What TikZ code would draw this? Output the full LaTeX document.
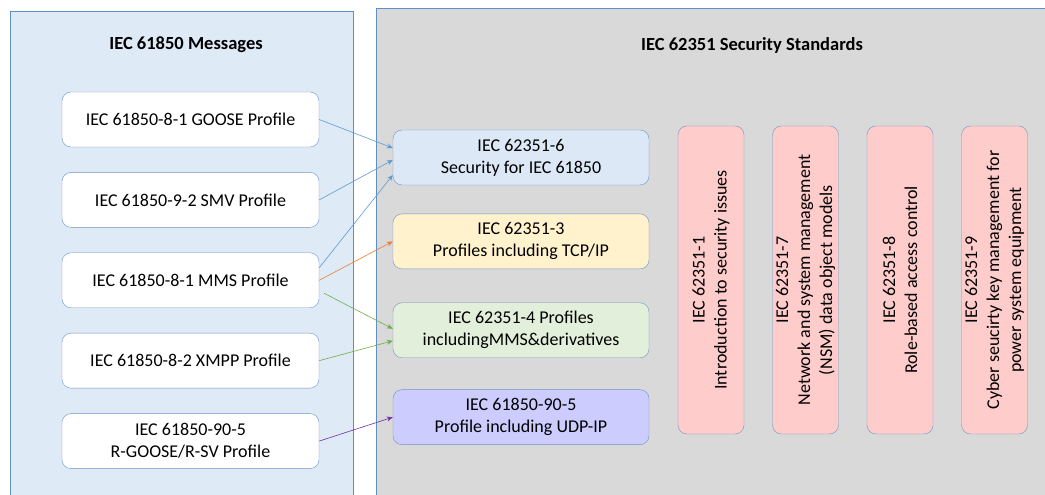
\documentclass[tikz,border=0pt]{standalone}
\usepackage{fontspec}
\setmainfont{Carlito}
\definecolor{panelblue}{HTML}{DEEAF6}
\definecolor{panelgray}{HTML}{D9D9D9}
\definecolor{edgeblue}{HTML}{5F8FC4}
\definecolor{boxedge}{HTML}{7094C4}
\definecolor{secblue}{HTML}{DCE8F6}
\definecolor{secyellow}{HTML}{FFF2CC}
\definecolor{secgreen}{HTML}{E2EFDA}
\definecolor{secpurple}{HTML}{CCCCFF}
\definecolor{secpink}{HTML}{FFCCCC}
\definecolor{arrblue}{HTML}{5B9BD5}
\definecolor{arrorange}{HTML}{ED7D31}
\definecolor{arrgreen}{HTML}{70AD47}
\definecolor{arrpurple}{HTML}{7030A0}
\usetikzlibrary{arrows.meta, positioning}

\begin{document}
\begin{tikzpicture}[
    x=1pt, y=1pt,
    node distance=25pt and 8pt,
    msg/.style={rectangle, rounded corners=9pt, draw=boxedge, fill=white,
                minimum width=257pt, minimum height=55pt,
                text centered, align=center, font=\fontsize{18}{22}\selectfont},
    std/.style={msg, minimum width=256pt},
    vstd/.style={rectangle, rounded corners=9pt, draw=boxedge, fill=secpink,
                 minimum width=308pt, minimum height=66pt, rotate=90,
                 text centered, align=center, font=\fontsize{18}{22}\selectfont},
    title/.style={font=\bfseries\fontsize{18.5}{22}\selectfont},
    arr/.style={-{Stealth[length=6pt, width=5pt]}, line width=0.6pt}
  ]
  \useasboundingbox (0,0) rectangle (1045,495);

  % panels
  \draw[edgeblue, fill=panelblue, line width=0.8pt] (10,-5) rectangle (353,484);
  \draw[edgeblue, fill=panelgray, line width=0.8pt] (376,-5) rectangle (1060,487);
  \node[title] (msgtitle) at (186,450) {IEC 61850 Messages};
  \node[title] (sectitle) at (752,450) {IEC 62351 Security Standards};

  % IEC 61850 messages
  \node[msg] (goose) at (190.5,375.5) {IEC 61850-8-1 GOOSE Profile};
  \node[msg, below=of goose] (smv)    {IEC 61850-9-2 SMV Profile};
  \node[msg, below=of smv]   (mms)    {IEC 61850-8-1 MMS Profile};
  \node[msg, below=of mms]   (xmpp)   {IEC 61850-8-2 XMPP Profile};
  \node[msg, below=of xmpp]  (rgoose) {IEC 61850-90-5\\ R-GOOSE/R-SV Profile};

  % IEC 62351 parts
  \node[std, fill=secblue]   (sec6) at (521,337.5) {IEC 62351-6\\ Security for IEC 61850};
  \node[std, fill=secyellow, below=28.5pt of sec6] (sec3) {IEC 62351-3\\ Profiles including TCP/IP};
  \node[std, fill=secgreen,  below=33.5pt of sec3] (sec4) {IEC 62351-4 Profiles\\ includingMMS\&derivatives};
  \node[std, fill=secpurple, below=31.5pt of sec4] (udp)  {IEC 61850-90-5\\ Profile including UDP-IP};

  \node[vstd] (sec1) at (711,215)   {IEC 62351-1\\ Introduction to security issues};
  \node[vstd] (sec7) at (805.5,215) {IEC 62351-7\\ Network and system management\\ (NSM) data object models};
  \node[vstd] (sec8) at (900,215)   {IEC 62351-8\\ Role-based access control};
  \node[vstd] (sec9) at (994.5,215) {IEC 62351-9\\ Cyber seucirty key management for\\ power system equipment};

  % mappings
  \draw[arr, arrblue] (goose.east) -- ([yshift=9.5pt]sec6.west);
  \draw[arr, arrblue] (smv.east) -- ([yshift=-2.5pt]sec6.west);
  \draw[arr, arrblue] ([yshift=12.5pt]mms.east) -- ([yshift=-17.5pt]sec6.west);
  \draw[arr, arrorange] (mms.east) -- (sec3.west);
  \draw[arr, arrgreen] ([xshift=5pt, yshift=-13pt]mms.east) -- ([yshift=1.5pt]sec4.west);
  \draw[arr, arrgreen] (xmpp.east) -- ([yshift=-10.5pt]sec4.west);
  \draw[arr, arrpurple] (rgoose.east) -- (udp.west);
\end{tikzpicture}
\end{document}
